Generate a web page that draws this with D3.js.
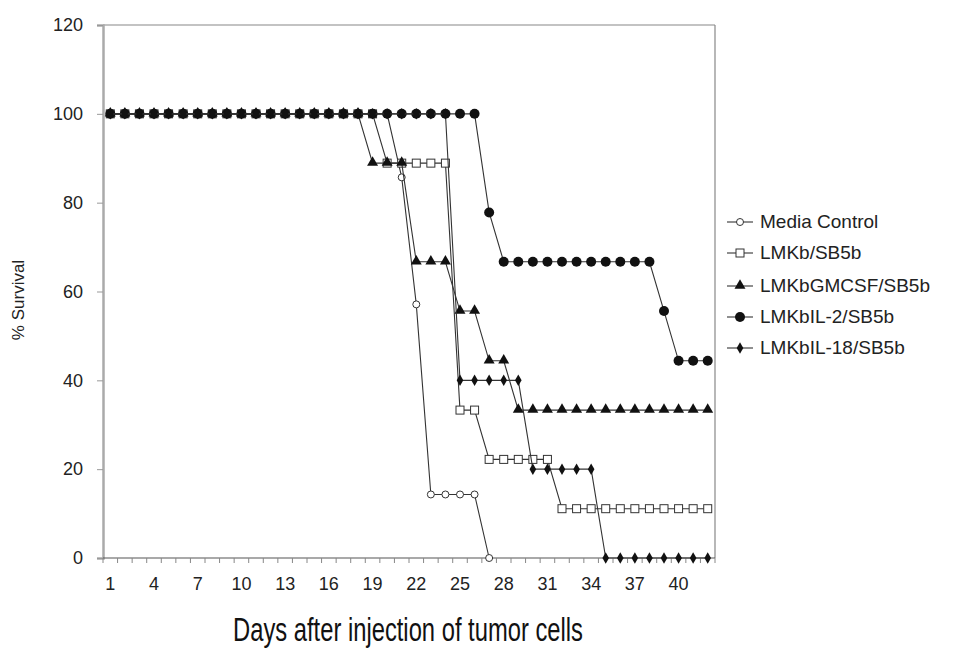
<!DOCTYPE html>
<html>
<head>
<meta charset="utf-8">
<script src="https://cdn.jsdelivr.net/npm/d3@7"></script>
<style>
  body { margin: 0; background: #fff; }
  text { font-family: Arial, "Liberation Sans", sans-serif; fill: #222; }
</style>
</head>
<body>
<div id="chart"></div>
<script>
// days on the category axis
let days = [1,2,3,4,5,6,7,8,9,10,11,12,13,14,15,16,17,18,19,20,21,22,23,24,25,26,27,28,29,30,31,32,33,34,35,36,37,38,39,40,41,42]
let dayLabels = [1,4,7,10,13,16,19,22,25,28,31,34,37,40]
let yTicks = [0,20,40,60,80,100,120]

// % survival per day
let mediaControl = [100,100,100,100,100,100,100,100,100,100,100,100,100,100,100,100,100,100,100,100,85.7,57.1,14.3,14.3,14.3,14.3,0,null,null,null,null,null,null,null,null,null,null,null,null,null,null,null]
let lmkb = [100,100,100,100,100,100,100,100,100,100,100,100,100,100,100,100,100,100,100,88.9,88.9,88.9,88.9,88.9,33.3,33.3,22.2,22.2,22.2,22.2,22.2,11.1,11.1,11.1,11.1,11.1,11.1,11.1,11.1,11.1,11.1,11.1]
let lmkbGmcsf = [100,100,100,100,100,100,100,100,100,100,100,100,100,100,100,100,100,100,88.9,88.9,88.9,66.7,66.7,66.7,55.6,55.6,44.4,44.4,33.3,33.3,33.3,33.3,33.3,33.3,33.3,33.3,33.3,33.3,33.3,33.3,33.3,33.3]
let lmkbIl2 = [100,100,100,100,100,100,100,100,100,100,100,100,100,100,100,100,100,100,100,100,100,100,100,100,100,100,77.8,66.7,66.7,66.7,66.7,66.7,66.7,66.7,66.7,66.7,66.7,66.7,55.6,44.4,44.4,44.4]
let lmkbIl18 = [100,100,100,100,100,100,100,100,100,100,100,100,100,100,100,100,100,100,100,100,100,100,100,100,40,40,40,40,40,20,20,20,20,20,0,0,0,0,0,0,0,0]

let seriesNames = ['Media Control','LMKb/SB5b','LMKbGMCSF/SB5b','LMKbIL-2/SB5b','LMKbIL-18/SB5b']
let seriesValues = [mediaControl, lmkb, lmkbGmcsf, lmkbIl2, lmkbIl18]
let markerKinds = ['openCircle','openSquare','triangle','circle','diamond']

let width = 975
let height = 652
let plotLeft = 103, plotRight = 715, plotTop = 25, plotBottom = 558

let svg = d3.select('#chart').append('svg')
  .attr('width', width)
  .attr('height', height)

let xScale = d3.scaleBand().domain(days).range([plotLeft, plotRight]).padding(0)
let yScale = d3.scaleLinear().domain([0, 120]).range([plotBottom, plotTop])
let cx = d => xScale(d) + xScale.bandwidth() / 2

// frame: top and right thin lines
svg.append('line').attr('x1', plotLeft).attr('x2', plotRight).attr('y1', plotTop).attr('y2', plotTop)
  .attr('stroke', '#888').attr('stroke-width', 1.2)
svg.append('line').attr('x1', plotRight).attr('x2', plotRight).attr('y1', plotTop).attr('y2', plotBottom)
  .attr('stroke', '#888').attr('stroke-width', 1.2)

// y axis
let yAxis = svg.append('g')
  .attr('transform', 'translate(' + plotLeft + ',0)')
  .call(d3.axisLeft(yScale).tickValues(yTicks).tickSize(6).tickPadding(14))
yAxis.select('.domain').attr('stroke', '#aaa').attr('stroke-width', 2.5)
yAxis.selectAll('.tick line').attr('stroke', '#999')
yAxis.selectAll('.tick text').style('font-size', '18px').style('fill', '#222')

// x axis: ticks between categories, labels every 3rd day
let xAxis = svg.append('g').attr('transform', 'translate(0,' + plotBottom + ')')
xAxis.append('line').attr('x1', plotLeft).attr('x2', plotRight).attr('y1', 0).attr('y2', 0)
  .attr('stroke', '#555').attr('stroke-width', 1.2)
xAxis.selectAll('line.tk')
  .data(days.concat([43]))
  .enter()
  .append('line')
  .attr('class', 'tk')
  .attr('x1', d => d <= 42 ? xScale(d) : plotRight)
  .attr('x2', d => d <= 42 ? xScale(d) : plotRight)
  .attr('y1', 0).attr('y2', 5)
  .attr('stroke', '#888')
xAxis.selectAll('text')
  .data(dayLabels)
  .enter()
  .append('text')
  .attr('x', d => cx(d))
  .attr('y', 32)
  .attr('text-anchor', 'middle')
  .style('font-size', '18px')
  .text(d => d)

// axis titles
svg.append('text')
  .attr('transform', 'translate(24,300) rotate(-90)')
  .attr('text-anchor', 'middle')
  .style('font-size', '17px')
  .text('% Survival')

// condensed title: squeeze Arial horizontally
svg.append('text')
  .attr('transform', 'translate(408,641) scale(0.72,1)')
  .attr('text-anchor', 'middle')
  .style('font-size', '33px')
  .style('fill', '#111')
  .text('Days after injection of tumor cells')

// marker drawing helper
function drawMarker (g, kind, x, y) {
  if (kind == 'openCircle') {
    g.append('circle').attr('cx', x).attr('cy', y).attr('r', 3.5)
      .attr('fill', '#fff').attr('stroke', '#333').attr('stroke-width', 1)
  } else if (kind == 'openSquare') {
    g.append('rect').attr('x', x - 4).attr('y', y - 4).attr('width', 8).attr('height', 8)
      .attr('fill', '#fff').attr('stroke', '#333').attr('stroke-width', 1)
  } else if (kind == 'triangle') {
    g.append('path').attr('d', d3.symbol(d3.symbolTriangle, 52)())
      .attr('transform', 'translate(' + x + ',' + (y - 0.5) + ')')
      .attr('fill', '#111')
  } else if (kind == 'circle') {
    g.append('circle').attr('cx', x).attr('cy', y).attr('r', 5).attr('fill', '#111')
  } else {
    g.append('path').attr('d', d3.symbol(d3.symbolDiamond, 38)())
      .attr('transform', 'translate(' + x + ',' + y + ')')
      .attr('fill', '#111')
  }
}

let line = d3.line()
  .defined(d => d[1] != null)
  .x(d => cx(d[0]))
  .y(d => yScale(d[1]))

seriesValues.forEach(function (vals, s) {
  let pts = days.map((d, i) => [d, vals[i]])
  let g = svg.append('g').attr('class', 'series')
  g.append('path')
    .datum(pts)
    .attr('fill', 'none')
    .attr('stroke', '#333')
    .attr('stroke-width', 1.1)
    .attr('d', line)
  pts.filter(p => p[1] != null).forEach(p => drawMarker(g, markerKinds[s], cx(p[0]), yScale(p[1])))
})

// legend
let legendY = [222, 253, 286, 317, 348]
let legend = svg.append('g')
seriesNames.forEach(function (name, i) {
  let y = legendY[i]
  legend.append('line').attr('x1', 727).attr('x2', 753).attr('y1', y).attr('y2', y)
    .attr('stroke', '#333').attr('stroke-width', 1.1)
  drawMarker(legend, markerKinds[i], 740, y)
  legend.append('text')
    .attr('x', 760)
    .attr('y', y + 6)
    .style('font-size', '19px')
    .text(name)
})
</script>
</body>
</html>
